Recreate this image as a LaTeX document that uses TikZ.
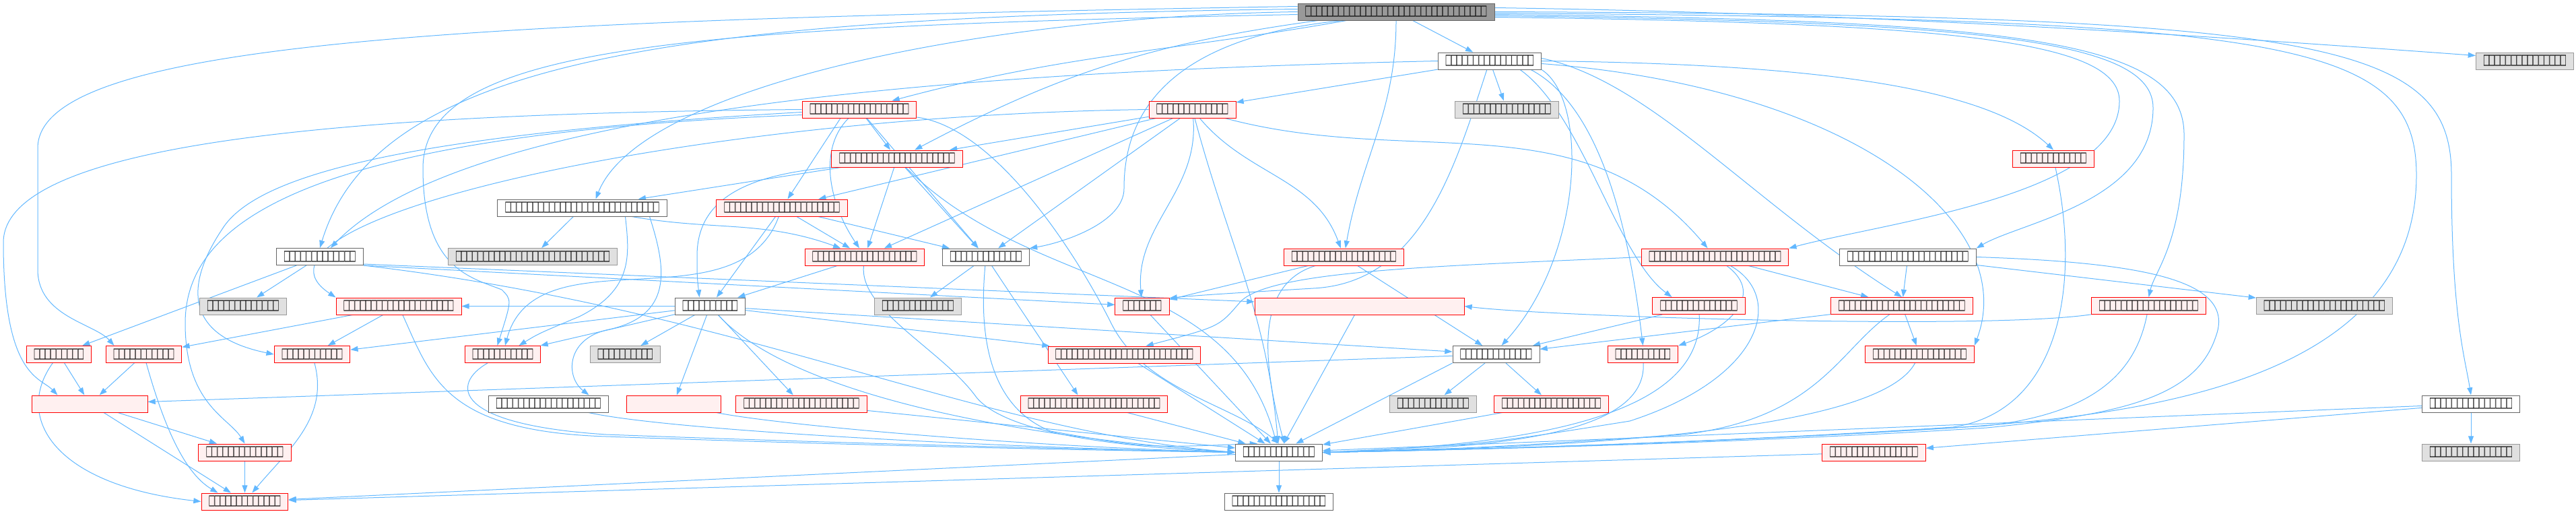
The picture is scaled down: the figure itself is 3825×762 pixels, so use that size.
\documentclass[tikz,border=0pt]{standalone}
\usepackage{fontspec}
\usepackage{graphicx}
\usepackage{tikz}
\usetikzlibrary{arrows.meta,backgrounds}
\newfontfamily\tofufont{DejaVu Sans}
\definecolor{edgeblue}{HTML}{63B8FF}
\definecolor{filegray}{HTML}{666666}
\definecolor{extgray}{HTML}{999999}
\definecolor{extfill}{HTML}{E0E0E0}
\definecolor{curfill}{HTML}{999999}
\definecolor{truncfill}{HTML}{FFF0F0}
\newcommand\tofuglyph{\makebox[2.0375mm]{\scalebox{0.5}[1]{□}}}
\newcommand\tofu[1]{\foreach\k in {1,...,#1}{\tofuglyph}}
\tikzset{
  doc/.style={rectangle, draw=filegray, fill=white, line width=0.25mm,
    minimum height=6.25mm, inner xsep=2.875mm, inner ysep=0pt,
    font=\tofufont\fontsize{15pt}{15pt}\selectfont},
  cur/.style={doc, fill=curfill},
  ext/.style={doc, draw=extgray, fill=extfill},
  trunc/.style={doc, draw=red, fill=truncfill},
  inc/.style={draw=edgeblue, line width=0.25mm, -{Triangle[length=2.8mm,width=2mm]}},
}
\begin{document}
\begin{tikzpicture}[x=0.25mm, y=-0.25mm]
\useasboundingbox (0,0) rectangle (3825,762);
% rows of files
\node[cur] (main) at (2073,17.5) {\tofu{33}};
\node[doc] (b1) at (2212,90.5) {\tofu{16}};
\node[ext] (b2) at (3749,90.5) {\tofu{15}};
\node[trunc] (c1) at (1276,162.5) {\tofu{18}};
\node[trunc] (c2) at (1770.5,162.5) {\tofu{13}};
\node[ext] (c3) at (2237.5,162.5) {\tofu{16}};
\node[trunc] (d1) at (1332,235.5) {\tofu{21}};
\node[trunc] (d2) at (3049,235.5) {\tofu{12}};
\node[doc] (e1) at (864.5,308.5) {\tofu{28}};
\node[trunc] (e2) at (1161,308.5) {\tofu{21}};
\node[doc] (f1) at (475,381) {\tofu{13}};
\node[ext] (f2) at (791,381) {\tofu{28}};
\node[trunc] (f3) at (1284,381.5) {\tofu{19}};
\node[doc] (f4) at (1464,381.5) {\tofu{13}};
\node[trunc] (f5) at (1995.5,381.5) {\tofu{19}};
\node[trunc] (f6) at (2546.5,381.5) {\tofu{24}};
\node[doc] (f7) at (2833,381.5) {\tofu{22}};
\node[ext] (g1) at (361,454.5) {\tofu{13}};
\node[trunc] (g2) at (592,454.5) {\tofu{20}};
\node[doc] (g3) at (1054.5,454.5) {\tofu{10}};
\node[ext] (g4) at (1363,454.5) {\tofu{13}};
\node[trunc] (g5) at (1696,454.5) {\tofu{7}};
\node[trunc, minimum width=77.75mm] (g6) at (2018.5,454.5) {};
\node[trunc] (g7) at (2522.5,454) {\tofu{14}};
\node[trunc] (g8) at (2824,454) {\tofu{23}};
\node[trunc] (g9) at (3190.5,454) {\tofu{18}};
\node[ext] (g10) at (3451.5,454) {\tofu{22}};
\node[trunc] (h1) at (87.5,526) {\tofu{9}};
\node[trunc] (h2) at (213.5,526) {\tofu{11}};
\node[trunc] (h3) at (463.5,526) {\tofu{11}};
\node[trunc] (h4) at (746.5,526) {\tofu{11}};
\node[ext] (h5) at (928.5,526) {\tofu{10}};
\node[trunc] (h6) at (1669.5,526.5) {\tofu{25}};
\node[doc] (h7) at (2221.5,526) {\tofu{13}};
\node[trunc] (h8) at (2439.5,526) {\tofu{10}};
\node[trunc] (h9) at (2850.5,526) {\tofu{17}};
\node[trunc, minimum width=42.75mm] (i1) at (133.5,599.5) {};
\node[doc] (i2) at (814.5,599.5) {\tofu{19}};
\node[trunc, minimum width=35mm] (i3) at (1000,599.5) {};
\node[trunc] (i4) at (1190,599.5) {\tofu{21}};
\node[trunc] (i5) at (1624.5,599.5) {\tofu{24}};
\node[ext] (i6) at (2128,599.5) {\tofu{13}};
\node[trunc] (i7) at (2303.5,599.5) {\tofu{18}};
\node[doc] (i8) at (3669,599.5) {\tofu{15}};
\node[trunc] (j1) at (363.5,671.5) {\tofu{14}};
\node[doc] (j2) at (1899,671.5) {\tofu{13}};
\node[trunc] (j3) at (2782.5,671.5) {\tofu{16}};
\node[ext] (j4) at (3669,671.5) {\tofu{15}};
\node[trunc] (k1) at (363.5,744.5) {\tofu{13}};
\node[doc] (k2) at (1899,744.5) {\tofu{17}};
\begin{scope}[on background layer]
% from the top file
\draw[inc] (main) -- (b1);
\draw[inc] ([yshift=1.5mm]main.east) .. controls (2800,20) and (3300,55) .. ([yshift=2mm]b2.west);
\draw[inc] (main.east) .. controls (3450,22) and (3640,60) .. (3640,260) .. controls (3640,470) and (3660,530) .. (i8.north);
\draw[inc] ([yshift=-0.5mm]main.east) .. controls (3400,28) and (3588,60) .. (3588,260) .. controls (3588,560) and (3200,615) .. (2900,635) .. controls (2500,660) and (2150,668) .. (j2.east);
\draw[inc] ([yshift=-1mm]main.east) .. controls (3000,30) and (3243,60) .. (3243,200) .. controls (3243,360) and (3200,400) .. (g9.north);
\draw[inc] ([yshift=-1.5mm]main.east) .. controls (2950,32) and (3197,60) .. (3197,160) .. controls (3197,300) and (3000,330) .. (f7.north east);
\draw[inc] ([yshift=-2mm]main.east) .. controls (2900,34) and (3147,60) .. (3147,150) .. controls (3147,290) and (2800,330) .. (f6.north east);
\draw[inc] (main) to[out=-90,in=80] (f5);
\draw[inc] ([xshift=-20mm]main.south) .. controls (1700,60) and (1669,200) .. (1669,280) .. controls (1669,330) and (1580,360) .. (f4.north east);
\draw[inc] (main) to[out=190,in=15] (c1);
\draw[inc] (main) to[bend right=10] (d1);
\draw[inc] (main.west) .. controls (1450,25) and (950,130) .. ([xshift=5mm]e1.north);
\draw[inc] ([yshift=1mm]main.west) .. controls (1000,25) and (560,90) .. (f1.north);
\draw[inc] ([yshift=2mm]main.west) .. controls (700,30) and (56,60) .. (56,220) -- (56,400) .. controls (56,470) and (140,480) .. ([xshift=-11mm]h2.north);
\draw[inc] ([yshift=-1mm]main.west) .. controls (1000,40) and (628,70) .. (628,250) .. controls (628,400) and (700,412) .. (745,430) .. controls (760,445) .. ([xshift=-2mm]h4.north);
% second level
\draw[inc] (b1) -- (c3);
\draw[inc] (b1) -- (c2);
\draw[inc] (b1.east) .. controls (2700,95) and (2950,130) .. (d2.north);
\draw[inc] (b1.south east) .. controls (2360,150) and (2350,380) .. ([xshift=2mm]h7.north);
\draw[inc] (b1.west) .. controls (1500,105) and (700,150) .. ([xshift=4mm]f1.north);
\draw[inc] (b1) .. controls (2160,250) and (2110,420) .. (1950,428) .. controls (1850,434) and (1780,438) .. ([yshift=3mm]g5.east);
\draw[inc] ([xshift=-4mm]b1.south east) .. controls (2380,160) and (2420,350) .. (h8.north);
\draw[inc] ([xshift=-8mm]b1.south east) .. controls (2350,170) and (2400,380) .. ([xshift=-10mm]g7.north);
\draw[inc] ([yshift=-1mm]b1.east) .. controls (2750,130) and (3000,330) .. (h9.north east);
\draw[inc] ([yshift=1mm]b1.east) .. controls (2450,120) and (2600,300) .. (g8.north);
\draw[inc] (c1) -- (d1);
\draw[inc] ([xshift=-7mm]c1.south) -- (e2);
\draw[inc] ([xshift=-4mm]c1.south) .. controls (1215,220) and (1230,300) .. ([xshift=-2mm]f3.north);
\draw[inc] (c1) -- (f4);
\draw[inc] (c1) .. controls (1480,190) and (1600,380) .. (1650,480) .. controls (1700,580) and (1830,600) .. (j2.north);
\draw[inc] (c1.west) .. controls (600,168) and (5,200) .. (5,360) .. controls (5,560) and (60,560) .. ([xshift=-12mm]i1.north);
\draw[inc] ([yshift=-1mm]c1.west) .. controls (600,200) and (380,260) .. (330,340) .. controls (270,430) and (280,500) .. (h3.west);
\draw[inc] ([yshift=-2mm]c1.west) .. controls (450,200) and (275,330) .. (275,480) .. controls (275,600) and (340,620) .. (j1.north);
\draw[inc] (c2) -- (d1);
\draw[inc] (c2) -- (e2);
\draw[inc] (c2) -- (f3);
\draw[inc] (c2) -- (f4);
\draw[inc] (c2) to[out=-50,in=110] (f5);
\draw[inc] (c2) to[out=-15,in=130] (f6);
\draw[inc] (c2) to[out=-85,in=95] (g5);
\draw[inc] (c2) to[out=-75,in=95] (j2);
\draw[inc] (c2.west) .. controls (1000,172) and (330,330) .. (g2.north west);
\draw[inc] (d1) -- (e1);
\draw[inc] (d1) -- (f3);
\draw[inc] (d1) -- (f4);
\draw[inc] (d1.south west) .. controls (1100,260) and (1035,300) .. (1035,380) .. controls (1035,410) .. ([xshift=-4mm]g3.north);
\draw[inc] (d1) to[out=-45,in=105] (j2);
\draw[inc] (e2) to[out=-110,in=75] (h4);
\draw[inc] (e2) -- (g3);
\draw[inc] (e2) -- (f3);
\draw[inc] (e2) -- (f4);
\draw[inc] (e1) -- (f2);
\draw[inc] (e1) to[out=-10,in=160] (f3);
\draw[inc] ([xshift=16mm]e1.south) .. controls (935,380) and (940,430) .. (860,470) .. controls (800,495) .. ([xshift=6mm]h4.north);
\draw[inc] ([xshift=25mm]e1.south) .. controls (990,400) and (1000,470) .. (900,490) .. controls (840,505) and (840,560) .. ([xshift=15mm]i2.north);
% middle rows
\draw[inc] (f1) -- (g1);
\draw[inc] (f1) -- (h1);
\draw[inc] (f1.south east) -- (g5);
\draw[inc] ([yshift=0.5mm]f1.south east) -- (g6);
\draw[inc] (f1.south east) .. controls (1100,460) and (1450,640) .. (j2.west);
\draw[inc] (f3) -- (g3);
\draw[inc] (f3) .. controls (1275,460) and (1400,520) .. (1450,590) .. controls (1500,650) and (1700,665) .. (j2.west);
\draw[inc] (f4) -- (g4);
\draw[inc] (f4) -- ([xshift=-6mm]i5.north);
\draw[inc] (f4) .. controls (1455,480) and (1460,600) .. (1560,640) .. controls (1700,665) .. ([xshift=-8mm]j2.north);
\draw[inc] (f5) .. controls (1870,420) and (1870,520) .. ([xshift=2mm]j2.north);
\draw[inc] (f5) -- (h7);
\draw[inc] (f5) -- (g5);
\draw[inc] (f6) .. controls (2625,440) and (2560,490) .. (h8.north east);
\draw[inc] (f6) -- (g8);
\draw[inc] (f6) .. controls (2650,440) and (2620,560) .. (2420,625) .. controls (2200,660) .. (j2.east);
\draw[inc] (f6.west) .. controls (2150,395) and (1880,400) .. (1840,450) .. controls (1810,485) .. ([xshift=8mm]h6.north);
\draw[inc] (f7) -- (g8);
\draw[inc] (f7) -- (g10);
\draw[inc] (f7.east) .. controls (3200,390) and (3320,420) .. (3290,500) .. controls (3260,590) and (3150,615) .. (2950,635) .. controls (2550,660) and (2150,668) .. (j2.east);
\draw[inc] (d2) .. controls (3090,420) and (3060,610) .. (2900,634) .. controls (2500,660) and (2150,668) .. (j2.east);
\draw[inc] (g3) -- (i3);
\draw[inc] (g3) -- (i4);
\draw[inc] (g3) .. controls (1150,560) and (1400,640) .. (j2.west);
\draw[inc] (g3) -- (h6);
\draw[inc] (g3) -- (h7);
\draw[inc] (g3) -- (h3);
\draw[inc] (g3) -- (g2);
\draw[inc] (g3) -- (h4);
\draw[inc] (g3) -- (h5);
\draw[inc] (g2) -- (h2);
\draw[inc] (g2) -- (h3);
\draw[inc] (g2) .. controls (640,560) and (660,640) .. (900,648) .. controls (1300,662) and (1600,668) .. (j2.west);
\draw[inc] (g5) -- (j2);
\draw[inc] (g6) -- (j2);
\draw[inc] (g7) -- (h7);
\draw[inc] (g7) .. controls (2530,610) and (2300,660) .. (j2.east);
\draw[inc] (g8) -- (h7);
\draw[inc] (g8) -- (h9);
\draw[inc] (g8) .. controls (2730,520) and (2700,620) .. (2500,645) .. controls (2200,665) .. (j2.east);
\draw[inc] (g9) .. controls (3170,560) and (3100,615) .. (2950,632) .. controls (2550,658) and (2150,668) .. (j2.east);
\draw[inc] (g9) .. controls (2950,490) and (2300,470) .. (g6.east);
% lower rows
\draw[inc] (h1) -- (i1);
\draw[inc] (h1) .. controls (20,620) and (80,720) .. (k1.west);
\draw[inc] (h2) -- (i1);
\draw[inc] (h2) .. controls (240,620) and (270,700) .. ([xshift=-10mm]k1.north);
\draw[inc] (h3) to[out=-75,in=50] (k1);
\draw[inc] (h4) .. controls (670,570) and (670,630) .. (900,645) .. controls (1300,660) and (1600,666) .. (j2.west);
\draw[inc] (h6) -- (j2);
\draw[inc] (h7) -- (i6);
\draw[inc] (h7) -- (i7);
\draw[inc] (h7) -- (i1);
\draw[inc] (h7.south west) -- (j2);
\draw[inc] (h8) .. controls (2445,640) and (2250,665) .. (j2.east);
\draw[inc] (h9) .. controls (2800,620) and (2500,662) .. (j2.east);
\draw[inc] (i1) -- (j1);
\draw[inc] (i1) -- (k1);
\draw[inc] (i2) .. controls (1000,640) and (1500,665) .. (j2.west);
\draw[inc] (i3) .. controls (1150,630) and (1500,662) .. (j2.west);
\draw[inc] (i4) -- (j2);
\draw[inc] (i5) -- (j2);
\draw[inc] (i7) -- (j2);
\draw[inc] (i8) -- (j4);
\draw[inc] (i8) -- (j2);
\draw[inc] (i8) -- (j3);
\draw[inc] (j1) -- (k1);
\draw[inc] (j3) -- (k1);
\draw[inc] (j2) -- (k2);
\draw[inc] (j2) -- (k1);
\end{scope}
\end{tikzpicture}
\end{document}
